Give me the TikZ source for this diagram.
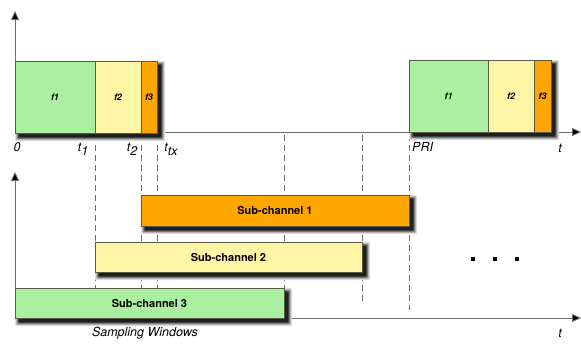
\documentclass[tikz,border=0pt]{standalone}
\usepackage{fontspec}
\setmainfont{TeX Gyre Heros}
\usetikzlibrary{arrows.meta}
\pgfdeclarelayer{guides}
\pgfdeclarelayer{shadow}
\pgfsetlayers{guides,shadow,main}
\definecolor{cgreen}{RGB}{170,240,160}
\definecolor{cyellow}{RGB}{255,245,165}
\definecolor{corange}{RGB}{255,166,0}
\definecolor{cedge}{RGB}{90,90,70}
\definecolor{caxis}{RGB}{110,110,110}
\tikzset{
  box/.style={draw=cedge, line width=0.6pt, inner sep=0pt, outer sep=0pt, anchor=south west,
    font=\bfseries\itshape\fontsize{9}{10}\selectfont},
  bar/.style={draw=cedge, line width=0.6pt, inner sep=0pt, outer sep=0pt, anchor=south west,
    minimum height=31pt, font=\bfseries\fontsize{11}{12}\selectfont},
  axis/.style={draw=caxis, line width=0.8pt, -{Triangle[length=9pt,width=8pt,fill=black]}},
  guide/.style={draw=caxis, line width=0.6pt, dash pattern=on 6pt off 4pt},
  lab/.style={font=\itshape\fontsize{12.5}{14}\selectfont, inner sep=0pt},
  dot/.style={fill=black, minimum size=3.2pt, inner sep=0pt}
}
\newcommand{\shadowrect}[2]{%
  \begin{pgfonlayer}{shadow}
  \foreach \b/\c in {4/12,3/28,2/50,1/72,0/88}{
    \fill[black!\c, rounded corners=1pt] ([shift={(4-\b,4-\b)}]#1.north west) rectangle ([shift={(4+\b,4+\b)}]#2.south east);
  }
  \end{pgfonlayer}}
\begin{document}
\begin{tikzpicture}[x=1pt,y=-1pt]
\useasboundingbox (0,0) rectangle (581,343);
% coordinates
\coordinate (o1) at (15,132);
\coordinate (y1) at (15,11);
\coordinate (x1) at (581,132);
\coordinate (o2) at (15,318);
\coordinate (y2) at (15,172);
\coordinate (x2) at (581,318);
\begin{pgfonlayer}{guides}
\foreach \gx/\gy in {95/318,141/318,157/318,284/318,362/305,409/310}{
  \draw[guide] (\gx,135) -- (\gx,\gy);
}
\draw[axis] (o1) -- (y1);
\draw[axis] (o1) -- (x1);
\draw[axis] (o2) -- (y2);
\draw[axis] (o2) -- (x2);
\end{pgfonlayer}
% top frames
\node[box, fill=cgreen, minimum width=80pt, minimum height=72pt] (f1a) at (15,133) {f1};
\node[box, fill=cyellow, minimum width=46pt, minimum height=72pt] (f2a) at (95,133) {f2};
\node[box, fill=corange, minimum width=16pt, minimum height=72pt] (f3a) at (141,133) {f3};
\node[box, fill=cgreen, minimum width=79pt, minimum height=72pt] (f1b) at (409,132) {f1};
\node[box, fill=cyellow, minimum width=46pt, minimum height=72pt] (f2b) at (488,132) {f2};
\node[box, fill=corange, minimum width=17pt, minimum height=72pt] (f3b) at (534,132) {f3};
% bars
\node[bar, fill=corange, minimum width=268pt] (s1) at (141,226) {Sub-channel 1};
\node[bar, fill=cyellow, minimum width=267pt, minimum height=30pt] (s2) at (95,272) {Sub-channel 2};
\node[bar, fill=cgreen, minimum width=269pt, minimum height=30pt] (s3) at (15,318) {Sub-channel 3};
% shadows
\shadowrect{f1a}{f3a}
\shadowrect{f1b}{f3b}
\shadowrect{s1}{s1}
\shadowrect{s2}{s2}
\shadowrect{s3}{s3}
% labels
\node[lab] (l0) at (17,147) {0};
\node[lab] (lt1) at (83,149) {t\raisebox{-4pt}{1}};
\node[lab] (lt2) at (132,149) {t\raisebox{-4pt}{2}};
\node[lab] (ltx) at (171,149) {t\raisebox{-4pt}{tx}};
\node[lab, anchor=west] (lpri) at (412,147) {PRI};
\node[lab] (lt) at (560,148) {t};
\node[lab] (ltb) at (560,333) {t};
\node[lab] (lsw) at (145,333) {Sampling Windows};
\node[dot] (d1) at (473,259) {};
\node[dot] (d2) at (495,259) {};
\node[dot] (d3) at (517,259) {};
\end{tikzpicture}
\end{document}
